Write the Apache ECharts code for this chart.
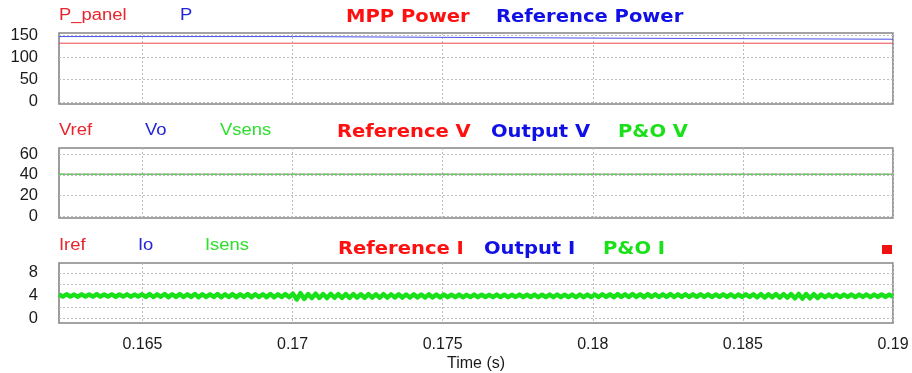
<!DOCTYPE html>
<html>
<head>
<meta charset="utf-8">
<script src="https://cdn.jsdelivr.net/npm/echarts@6/dist/echarts.min.js"></script>
<style>
  html, body { margin: 0; padding: 0; background: #fff; }
  #chart { width: 912px; height: 373px; }
</style>
</head>
<body>
<div id="chart"></div>
<script>
// Simulation window (s)
const tStart = 0.16222;
const tEnd = 0.19;
const timeTicks = [0.165, 0.17, 0.175, 0.18, 0.185, 0.19];

// Power panel: breakpoints of the stepped signals
const powerTime = [0.16222, 0.17, 0.18, 0.19];
const pPanel = [132, 132, 132, 132];
const pRef = [147, 143.5, 141, 141];
const powerTicks = [0, 50, 100, 150];

// Voltage panel
const voltTime = [0.16222, 0.19];
const vRef = [40.6, 40.6];
const vOut = [40.5, 40.5];
const vSens = [40.5, 40.5];
const voltTicks = [0, 20, 40, 60];

// Current panel: sensed current, peaks and troughs sampled every half ripple period
const iSens = [
  4.22,3.86,4.25,3.88,4.2,3.84,4.24,3.87,4.22,3.85,4.26,3.86,4.2,3.88,4.24,3.82,4.22,3.86,4.25,3.84,4.2,3.86,
  4.24,3.8,4.28,3.78,4.25,3.82,4.3,3.76,4.26,3.8,4.28,3.78,4.24,3.8,4.3,3.76,4.27,3.78,4.25,3.8,
  4.3,3.75,4.26,3.78,4.28,3.76,4.25,3.8,4.3,3.74,4.27,3.78,4.26,3.76,4.3,3.75,4.24,3.78,4.28,3.76,
  4.35,3.35,4.45,3.45,
  4.3,3.6,4.35,3.62,4.3,3.6,4.32,3.65,4.3,3.62,4.28,3.64,4.3,3.66,4.26,3.65,4.28,3.68,
  4.25,3.66,4.27,3.68,4.24,3.7,4.26,3.68,4.22,3.7,4.24,3.72,4.22,3.7,4.24,3.72,4.2,3.72,
  4.2,3.75,4.18,3.76,4.2,3.74,4.16,3.78,4.2,3.76,4.18,3.78,4.16,3.76,4.2,3.78,4.18,3.76,4.16,3.8,
  4.2,3.76,4.18,3.78,4.2,3.74,4.18,3.78,4.2,3.76,4.22,3.76,4.18,3.78,4.2,3.74,4.22,3.76,4.2,3.78,
  4.22,3.78,4.26,3.8,4.24,3.76,4.28,3.8,4.25,3.78,4.3,3.8,4.26,3.76,4.28,3.8,4.24,3.78,4.26,3.82,
  4.28,3.78,4.25,3.8,4.27,3.78,4.24,3.82,4.26,3.8,4.24,3.78,4.22,3.82,4.26,3.8,4.24,3.78,4.22,3.8,
  4.24,3.78,4.26,3.72,4.28,3.7,4.26,3.74,4.3,3.68,4.28,3.66,
  4.3,3.55,4.32,3.5,4.3,3.56,4.28,3.6,
  4.22,3.74,4.2,3.78,4.22,3.76,4.2,3.8,4.22,3.78,4.2,3.8,4.22,3.78,4.2,3.8,4.22,3.8,4.2,3.82
];
const currentTicks = [0, 4, 8];
const currentGrid = [0, 2, 4, 6, 8];

const RED = '#ff1010';
const BLUE = '#1010e6';
const GREEN = '#19e019';
const LABEL_FONT = 'Liberation Sans, Arial, sans-serif';
const TITLE_FONT = 'DejaVu Sans, sans-serif';

const pairs = (xs, ys) => xs.map((x, i) => [x, ys[i]]);
const sampled = (ys) => ys.map((y, i) => [tStart + (tEnd - tStart) * i / (ys.length - 1), y]);

const gridBox = { left: 59, right: 19, show: true, borderColor: '#858585', borderWidth: 1.6, backgroundColor: '#fff' };
const dotted = { show: true, lineStyle: { color: '#bcbcbc', type: [2, 2], width: 1 } };

function xAxis(idx, showLabels) {
  return {
    type: 'value', gridIndex: idx, min: tStart, max: tEnd,
    axisLine: { show: false },
    axisTick: { show: false, customValues: timeTicks },
    splitLine: dotted,
    axisLabel: showLabels ? {
      customValues: timeTicks, color: '#1a1a1a', fontSize: 16, fontFamily: LABEL_FONT, margin: 14,
      formatter: v => String(+v.toFixed(3))
    } : { show: false },
    name: showLabels ? 'Time (s)' : '',
    nameLocation: 'middle', nameGap: 33,
    nameTextStyle: { color: '#1a1a1a', fontSize: 16, fontFamily: LABEL_FONT }
  };
}

function yAxis(idx, min, max, labels, lines) {
  return {
    type: 'value', gridIndex: idx, min: min, max: max,
    axisLine: { show: false },
    axisTick: { show: false, customValues: lines },
    splitLine: dotted,
    axisLabel: { customValues: labels, color: '#1a1a1a', fontSize: 16.5, fontFamily: LABEL_FONT, margin: 21 }
  };
}

function label(text, x, y, color, bold) {
  return {
    type: 'text', x: x, y: y, scaleX: bold ? 1.15 : 1.15, z: 100,
    style: {
      text: text, x: 0, y: 0, fill: color,
      fontSize: bold ? 17 : 16, fontWeight: bold ? 'bold' : 'normal',
      fontFamily: bold ? TITLE_FONT : LABEL_FONT,
      align: 'left', verticalAlign: 'middle'
    }
  };
}

const chart = echarts.init(document.getElementById('chart'), null, { renderer: 'canvas' });
chart.setOption({
  animation: false,
  backgroundColor: '#fff',
  grid: [
    Object.assign({ top: 33, height: 71 }, gridBox),
    Object.assign({ top: 148, height: 70 }, gridBox),
    Object.assign({ top: 263, height: 61 }, gridBox)
  ],
  xAxis: [xAxis(0, false), xAxis(1, false), xAxis(2, true)],
  yAxis: [
    yAxis(0, -5, 155, powerTicks, powerTicks),
    yAxis(1, -1.5, 65.8, voltTicks, voltTicks),
    yAxis(2, -0.74, 9.7, currentTicks, currentGrid)
  ],
  series: [
    { name: 'P_panel', type: 'line', xAxisIndex: 0, yAxisIndex: 0, step: 'end', symbol: 'none',
      data: pairs(powerTime, pPanel), lineStyle: { color: '#f04a4a', width: 1 } },
    { name: 'P', type: 'line', xAxisIndex: 0, yAxisIndex: 0, step: 'end', symbol: 'none',
      data: pairs(powerTime, pRef), lineStyle: { color: '#4a52e8', width: 1 } },
    { name: 'Vref', type: 'line', xAxisIndex: 1, yAxisIndex: 1, symbol: 'none',
      data: pairs(voltTime, vRef), lineStyle: { color: RED, width: 1, opacity: 0.5 } },
    { name: 'Vo', type: 'line', xAxisIndex: 1, yAxisIndex: 1, symbol: 'none',
      data: pairs(voltTime, vOut), lineStyle: { color: BLUE, width: 1, opacity: 0.3 } },
    { name: 'Vsens', type: 'line', xAxisIndex: 1, yAxisIndex: 1, symbol: 'none',
      data: pairs(voltTime, vSens), lineStyle: { color: '#5ad65a', width: 1.4, type: [6, 2] } },
    { name: 'Isens', type: 'line', xAxisIndex: 2, yAxisIndex: 2, symbol: 'none',
      data: sampled(iSens), lineStyle: { color: GREEN, width: 4.5, join: 'round' } }
  ],
  graphic: [
    label('P_panel', 59, 16, '#e8242c', false),
    label('P', 180, 16, '#2424d8', false),
    label('MPP Power', 346, 18, RED, true),
    label('Reference Power', 496, 18, BLUE, true),

    label('Vref', 59, 131, '#e8242c', false),
    label('Vo', 145, 131, '#2424d8', false),
    label('Vsens', 220, 131, '#2ee02e', false),
    label('Reference V', 337, 133, RED, true),
    label('Output V', 491, 133, BLUE, true),
    label('P&O V', 618, 133, GREEN, true),

    label('Iref', 59, 245.5, '#e8242c', false),
    label('Io', 138, 245.5, '#2424d8', false),
    label('Isens', 205, 245.5, '#2ee02e', false),
    label('Reference I', 338, 250, RED, true),
    label('Output I', 484, 250, BLUE, true),
    label('P&O I', 603, 250, GREEN, true),

    { type: 'rect', shape: { x: 882, y: 245, width: 10, height: 9 }, style: { fill: '#f01010' } }
  ]
});
</script>
</body>
</html>
